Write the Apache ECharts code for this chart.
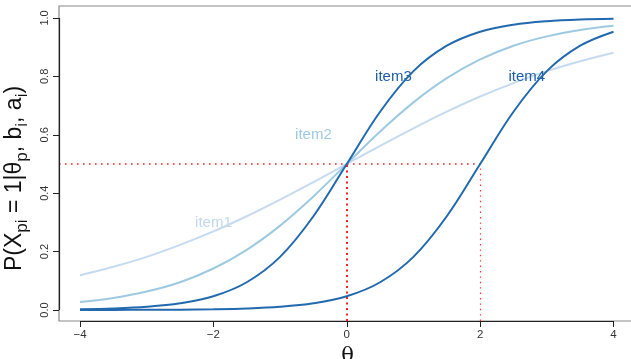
<!DOCTYPE html>
<html>
<head>
<meta charset="utf-8">
<script src="https://cdn.jsdelivr.net/npm/echarts@6/dist/echarts.min.js"></script>
<style>html,body{margin:0;padding:0;background:#fff}#c{width:631px;height:359px}</style>
</head>
<body>
<div id="c"></div>
<script>
// theta grid (x values)
const theta = [-4,-3.5,-3,-2.5,-2,-1.5,-1,-0.5,0,0.5,1,1.5,2,2.5,3,3.5,4];
// P(X=1)
const item1 = [0.119,0.148,0.182,0.223,0.269,0.321,0.378,0.438,0.500,0.562,0.622,0.679,0.731,0.777,0.818,0.852,0.881];
const item2 = [0.027,0.041,0.063,0.095,0.142,0.206,0.289,0.389,0.500,0.611,0.711,0.794,0.858,0.905,0.937,0.959,0.973];
const item3 = [0.0025,0.0052,0.011,0.023,0.047,0.095,0.182,0.321,0.500,0.679,0.818,0.905,0.953,0.977,0.989,0.995,0.9975];
const item4 = [0.0001,0.0003,0.0006,0.0012,0.0025,0.0052,0.011,0.023,0.047,0.095,0.182,0.321,0.500,0.679,0.818,0.905,0.953];
const itemNames = ['item1','item2','item3','item4'];
// label anchor points (theta, P) for the item names
const labelTheta = [-2, -0.5, 0.7, 2.7];
const labelP = [0.30, 0.60, 0.80, 0.80];
const xTicks = [-4,-2,0,2,4];
const yTicks = [0,0.2,0.4,0.6,0.8,1.0];
const refP = 0.5;
const refTheta = [0, 2];

const X_MIN = -4.315, X_MAX = 4.277, Y_MIN = -0.0377, Y_MAX = 1.041;
const FONT = 'Liberation Sans, Arial, Helvetica, sans-serif';
const lineColors = ['#c6dbef','#9ecae1','#2269ae','#2269ae'];
const textColors = ['#c0d8ee','#9ecae1','#1d5ea5','#1d5ea5'];
const allData = [item1,item2,item3,item4];

const series = allData.map((arr,k)=>({
  type:'line', name:itemNames[k], z: 3+k,
  data: theta.map((t,i)=>[t,arr[i]]),
  smooth:0.35, showSymbol:false, symbol:'none',
  lineStyle:{color:lineColors[k], width:2}, clip:false,
  markPoint:{
    symbol:'circle', symbolSize:0,
    data:[{coord:[labelTheta[k],labelP[k]], value:itemNames[k]}],
    label:{show:true, position:'inside', formatter:itemNames[k], color:textColors[k], fontSize:15, fontFamily:FONT}
  }
}));

// reference lines and axis segments
series.push({
  type:'line', data:[], z:2, clip:false, silent:true,
  markLine:{
    silent:true, symbol:['none','none'], label:{show:false}, animation:false,
    data:[
      [{coord:[X_MIN,refP], lineStyle:{color:'#ff2020', width:1.6, type:[1.6,4.4]}},{coord:[refTheta[1],refP]}],
      [{coord:[refTheta[0],Y_MIN], lineStyle:{color:'#ff2020', width:2, type:[2,3.5]}},{coord:[refTheta[0],refP]}],
      [{coord:[refTheta[1],Y_MIN], lineStyle:{color:'#ff3030', width:1.2, type:[1.4,4]}},{coord:[refTheta[1],refP]}],
      [{coord:[xTicks[0],Y_MIN], lineStyle:{color:'#222', width:1.2, type:'solid'}},{coord:[xTicks[xTicks.length-1],Y_MIN]}],
      [{coord:[X_MIN,yTicks[0]], lineStyle:{color:'#222', width:1.2, type:'solid'}},{coord:[X_MIN,yTicks[yTicks.length-1]]}]
    ]
  }
});

const chart = echarts.init(document.getElementById('c'));
chart.setOption({
  animation:false,
  grid:{left:59, right:-1, top:6, bottom:38, show:true, borderColor:'#8a8a8a', borderWidth:1.2,
    backgroundColor:'transparent', containLabel:false, outerBoundsMode:'none'},
  xAxis:{
    type:'value', min:X_MIN, max:X_MAX,
    axisLine:{show:false, onZero:false}, splitLine:{show:false},
    axisTick:{show:true, customValues:xTicks, length:6, lineStyle:{color:'#222'}},
    axisLabel:{customValues:xTicks, margin:8, color:'#333', fontSize:11.5, fontFamily:FONT,
      formatter:v=> v<0 ? '\u2212'+Math.abs(v) : String(v)},
    name:'θ', nameLocation:'middle', nameGap:17,
    nameTextStyle:{fontSize:21, color:'#111', fontFamily:'DejaVu Serif, serif', padding:[0,0,0,4]}
  },
  yAxis:{
    type:'value', min:Y_MIN, max:Y_MAX,
    axisLine:{show:false, onZero:false}, splitLine:{show:false},
    axisTick:{show:true, customValues:yTicks, length:6, lineStyle:{color:'#222'}},
    axisLabel:{customValues:yTicks, rotate:90, margin:9, color:'#333', fontSize:11, fontFamily:FONT,
      formatter:v=>v.toFixed(1)},
    name:'{m|P(X}{s|pi}{m| = 1|θ}{s|p}{m|, b}{s|i}{m|, a}{s|i}{m|)}',
    nameLocation:'middle', nameRotate:90, nameGap:25,
    nameTextStyle:{
      padding:[0,30,0,0],
      rich:{
        m:{fontSize:23, color:'#111', fontFamily:FONT, verticalAlign:'bottom', lineHeight:24, padding:[0,0,5,0]},
        s:{fontSize:17, color:'#111', fontFamily:FONT, verticalAlign:'bottom', lineHeight:18}
      }
    }
  },
  series:series
});
</script>
</body>
</html>
